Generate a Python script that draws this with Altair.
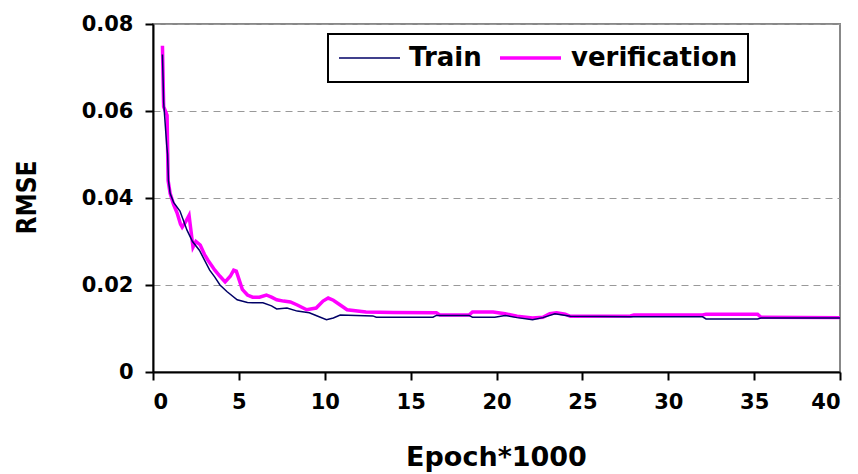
import altair as alt
import pandas as pd

# verification series (epoch*1000, RMSE)
ver_x = [0.55, 0.62, 0.82, 0.88, 1.0, 1.2, 1.4, 1.6, 1.7, 1.9, 2.1, 2.33, 2.5, 2.75, 3.0, 3.2,
         3.6, 3.9, 4.2, 4.5, 4.7, 4.85, 5.2, 5.5, 5.8, 6.2, 6.6, 6.9, 7.2, 7.6, 8.0, 8.4, 8.95,
         9.5, 9.9, 10.2, 10.5, 10.9, 11.3, 12.4, 14.0, 16.5, 16.7, 18.4, 18.6, 19.8, 20.5, 21.2,
         22.1, 22.7, 23.1, 23.5, 24.0, 24.3, 27.8, 28.0, 32.0, 32.2, 35.2, 35.4, 40.0]
ver_y = [0.075, 0.061, 0.059, 0.044, 0.041, 0.0385, 0.0366, 0.034, 0.0333, 0.0345, 0.036, 0.0287,
         0.030, 0.0292, 0.027, 0.0257, 0.0234, 0.022, 0.0207, 0.022, 0.0234, 0.0232, 0.0190,
         0.0177, 0.0172, 0.0172, 0.0177, 0.0172, 0.0166, 0.0163, 0.0161, 0.0154, 0.0143, 0.0147,
         0.0163, 0.0170, 0.0165, 0.0154, 0.0143, 0.0138, 0.0137, 0.0136, 0.0131, 0.0131, 0.0138,
         0.0138, 0.0134, 0.0128, 0.0124, 0.0126, 0.0134, 0.0136, 0.0133, 0.0128, 0.0129, 0.0131,
         0.0131, 0.0133, 0.0133, 0.0126, 0.0125]

# train series
tr_x = [0.55, 0.62, 0.8, 0.85, 0.9, 1.0, 1.2, 1.57, 1.98, 2.3, 2.7, 3.3, 3.6, 3.9, 4.3, 4.9,
        5.5, 5.8, 6.4, 6.9, 7.2, 7.8, 8.4, 9.1, 9.6, 10.1, 10.5, 10.9, 12.8, 13.0, 16.3, 16.5,
        18.4, 18.6, 19.9, 20.5, 21.2, 22.1, 22.7, 23.4, 24.3, 27.8, 32.0, 32.2, 35.2, 35.4, 40.0]
tr_y = [0.073, 0.062, 0.052, 0.050, 0.044, 0.041, 0.039, 0.037, 0.0326, 0.030, 0.028, 0.0234,
        0.0218, 0.0200, 0.0185, 0.0166, 0.0160, 0.0159, 0.0159, 0.0152, 0.0145, 0.0147, 0.0140,
        0.0136, 0.0128, 0.0120, 0.0124, 0.0131, 0.0129, 0.0126, 0.0126, 0.0130, 0.0130, 0.0126,
        0.0126, 0.0130, 0.0125, 0.0120, 0.0125, 0.0134, 0.0128, 0.0127, 0.0127, 0.0122, 0.0122,
        0.0124, 0.0124]

series_names = ["Train", "verification"]
series_colors = ["#000066", "#ff00ff"]
series_widths = [1.5, 3.5]

x_ticks = [0, 5, 10, 15, 20, 25, 30, 35, 40]
y_ticks = [0, 0.02, 0.04, 0.06, 0.08]

df = pd.concat([
    pd.DataFrame({"epoch": tr_x, "rmse": tr_y, "series": "Train", "k": 1}),
    pd.DataFrame({"epoch": ver_x, "rmse": ver_y, "series": "verification", "k": 0}),
])

color = alt.Color("series:N", title=None,
                  scale=alt.Scale(domain=series_names, range=series_colors))
width = alt.StrokeWidth("series:N", title=None,
                        scale=alt.Scale(domain=series_names, range=series_widths))

x = alt.X("epoch:Q", scale=alt.Scale(domain=[0, 40], nice=False),
          axis=alt.Axis(values=x_ticks, format="d", title="Epoch*1000", grid=False,
                        titleX=343, titleY=85, titleBaseline="middle",
                        labelPadding=11))
y = alt.Y("rmse:Q", scale=alt.Scale(domain=[0, 0.08], nice=False),
          axis=alt.Axis(values=y_ticks, format=".2~f", title="RMSE", grid=True,
                        gridDash=[7, 5], gridColor="#999999", gridWidth=1,
                        titleX=-126, titleY=173, titleAngle=-90, titleBaseline="middle",
                        titleFont="DejaVu Sans Condensed, DejaVu Sans", titleFontSize=26,
                        labelPadding=12))

ver_layer = alt.Chart(df).transform_filter(alt.datum.k == 0).mark_line().encode(
    x=x, y=y, color=color, strokeWidth=width)
tr_layer = alt.Chart(df).transform_filter(alt.datum.k == 1).mark_line().encode(
    x=x, y=y, color=color, strokeWidth=width)

chart = alt.layer(ver_layer, tr_layer).properties(
    width=687, height=348,
    autosize=alt.AutoSizeParams(type="none"),
    padding={"left": 153, "top": 24, "right": 18, "bottom": 102},
    background="white",
).configure_view(
    stroke="#888888", strokeWidth=2
).configure_axis(
    domainColor="black", domainWidth=2, tickColor="black", tickWidth=2, tickSize=8,
    labelFont="DejaVu Sans", labelFontWeight="bold", labelFontSize=21, labelColor="black",
    titleFont="DejaVu Sans", titleFontWeight="bold", titleFontSize=27, titleColor="black",
).configure_legend(
    orient="none", legendX=175, legendY=10, direction="horizontal",
    strokeColor="black", strokeWidth=2, padding=10, fillColor="white",
    symbolType="stroke", symbolSize=3721, clipHeight=28,
    labelFont="DejaVu Sans", labelFontWeight="bold", labelLimit=400,
    labelFontSize=26, labelColor="black", labelOffset=8, columnPadding=16,
)

chart.save("out.html", embed_options={"renderer": "svg", "actions": False})
